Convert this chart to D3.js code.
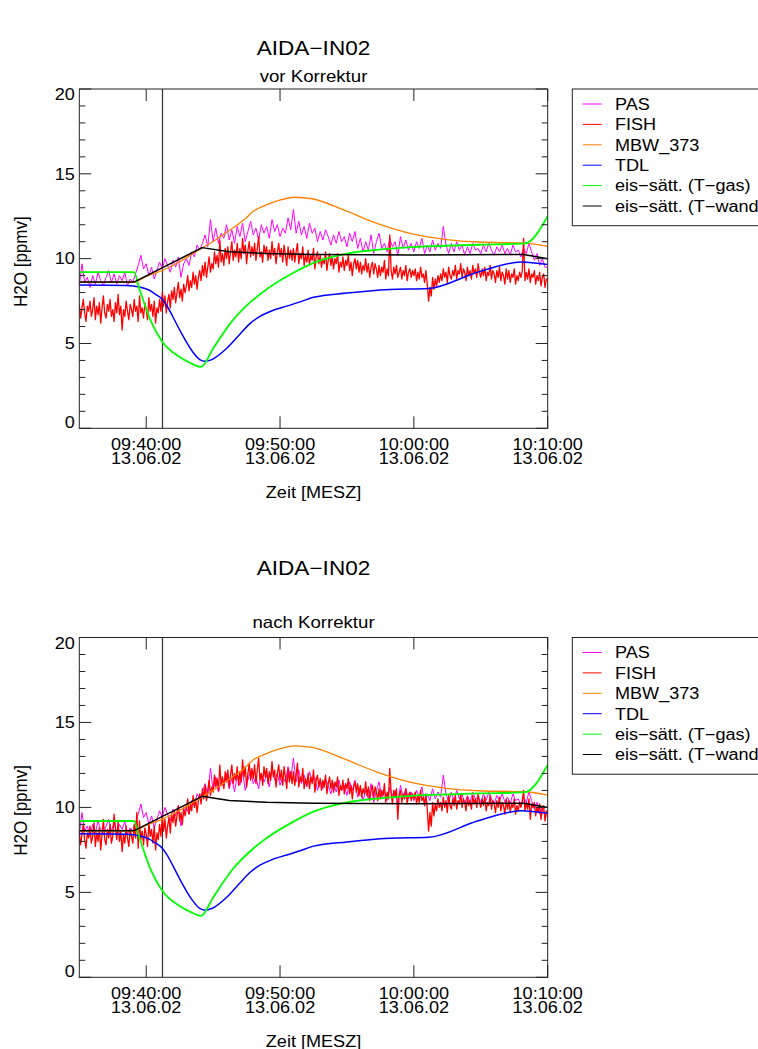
<!DOCTYPE html>
<html>
<head>
<meta charset="utf-8">
<script src="https://cdn.jsdelivr.net/npm/d3@7"></script>
<style>
  html, body { margin: 0; padding: 0; background: #fff; }
  svg { display: block; }
  text { font-family: "Liberation Sans", Arial, Helvetica, sans-serif; fill: #000; }
</style>
</head>
<body>
<svg id="chart" width="758" height="1049"></svg>
<script>
// ---------------- data ----------------
const seriesNames  = ["PAS", "FISH", "MBW_373", "TDL", "eis\u2212s\u00e4tt. (T\u2212gas)", "eis\u2212s\u00e4tt. (T\u2212wand)"];
const seriesColors = ["#ff00ff", "#ff0000", "#ff8000", "#0000ff", "#00ff00", "#000000"];

const mainTitle   = "AIDA\u2212IN02";
const panelTitles = ["vor Korrektur", "nach Korrektur"];
const yLabel      = "H2O  [ppmv]";
const xLabel      = "Zeit [MESZ]";
const dateLabel   = "13.06.02";
const xTickLabels = ["09:40:00", "09:50:00", "10:00:00", "10:10:00"];
const yTickValues = [0, 5, 10, 15, 20];

const startTime = "09:35:00";
const endTime   = "10:10:00";
const markerTime = "09:41:13";

// FISH, one value every 6 s starting 09:35:00 (before correction)
const fishStepSec = 6;
const fishVor = [
  7.3,6.5,7.1,7.6,6.8,6.3,7.2,6.9,7.5,6.6,
  7.0,7.7,6.4,7.2,6.7,7.4,6.2,7.1,7.8,6.8,
  6.5,7.3,6.9,7.6,6.6,7.0,6.3,7.4,6.8,7.9,
  6.7,7.2,5.8,7.0,6.6,7.5,6.9,6.4,7.3,7.0,
  6.6,7.6,6.9,7.2,6.3,7.8,6.8,7.1,6.5,7.4,
  7.0,6.4,7.7,6.9,7.3,6.6,7.5,6.2,7.1,6.8,
  7.6,6.9,8.0,7.2,7.8,6.8,7.5,7.9,7.1,8.1,
  7.6,8.3,7.4,8.0,8.6,7.7,8.2,7.5,8.5,8.0,
  8.4,9.0,8.1,8.7,8.3,9.2,8.5,9.0,8.2,8.9,
  9.3,8.7,9.6,9.0,9.8,8.9,9.5,10.1,9.2,9.7,
  9.4,10.4,9.7,10.2,9.5,11.1,9.8,10.3,9.6,10.6,
  10.0,10.7,9.7,10.4,11.0,9.9,10.5,10.1,10.9,9.8,
  10.6,10.0,11.2,10.3,10.8,9.7,10.5,11.0,10.1,10.7,
  10.2,10.9,9.9,10.6,11.3,10.1,10.4,9.8,10.8,10.3,
  10.7,9.9,10.5,10.0,11.0,10.2,10.6,9.7,10.4,10.9,
  10.1,10.6,9.8,10.8,10.2,9.6,10.7,10.0,10.5,9.9,
  10.6,9.8,10.4,10.9,9.7,10.3,10.0,10.7,9.6,10.2,
  9.8,10.5,9.6,10.2,9.9,10.6,9.4,10.1,10.4,9.7,
  10.2,9.5,10.0,9.7,10.4,9.3,9.9,10.3,9.6,10.1,
  9.4,10.0,9.7,10.3,9.2,9.8,9.5,10.1,9.3,9.9,
  9.6,10.2,9.3,9.8,9.0,9.7,10.0,9.4,9.9,9.2,
  9.8,9.1,9.6,9.3,10.0,9.2,9.7,8.9,9.5,9.8,
  9.1,9.7,9.4,8.9,9.6,9.0,9.5,9.2,9.9,8.8,
  9.4,9.0,11.4,9.3,8.8,9.5,9.1,9.6,8.9,9.2,
  9.5,8.8,9.3,9.0,9.6,8.7,9.2,9.4,8.9,9.3,
  9.0,9.4,8.7,9.2,8.8,9.5,8.9,9.1,8.6,9.3,
  8.5,7.5,8.3,7.8,8.9,8.2,8.8,8.4,9.0,8.6,
  9.1,8.7,9.4,8.9,9.2,8.6,9.5,9.0,8.8,9.3,
  9.0,9.6,8.8,9.3,9.1,9.7,8.9,9.4,9.2,8.7,
  9.5,9.0,9.3,8.8,9.6,9.1,9.4,8.9,9.7,9.2,
  8.9,9.4,9.0,9.5,8.7,9.2,9.0,9.6,8.8,9.3,
  9.1,8.6,9.3,8.9,9.5,8.7,9.2,9.0,8.5,9.4,
  8.8,9.3,8.6,9.1,8.9,9.4,8.5,9.0,8.7,9.2,
  8.9,9.3,11.2,8.7,9.2,8.8,9.4,8.6,9.1,8.9,
  9.3,8.5,9.0,8.7,9.2,8.4,8.9,9.1,8.3,8.8,
  8.7
];

// FISH after correction, same sampling
const fishNach = [
  8.6,7.8,8.4,9.0,8.1,7.6,8.5,8.2,8.9,7.9,
  8.3,9.1,7.7,8.5,8.0,8.8,7.5,8.4,9.3,8.1,
  7.8,8.7,8.2,9.0,7.9,8.3,9.6,8.8,8.1,9.2,
  8.0,8.6,7.4,8.4,7.9,8.9,8.2,7.7,8.7,8.3,
  7.9,9.0,8.2,9.7,7.6,9.2,8.1,8.6,7.8,8.8,
  8.4,7.7,9.1,8.3,8.7,7.9,8.9,7.5,8.5,8.1,
  9.0,8.3,9.5,8.6,9.3,8.2,8.9,9.4,8.5,9.6,
  9.1,9.8,8.9,9.5,10.1,9.2,9.7,9.0,10.0,9.5,
  9.9,10.5,9.6,10.2,9.8,10.7,10.0,10.5,9.7,10.4,
  10.8,10.2,11.1,10.5,11.3,10.4,11.0,11.6,10.7,11.2,
  10.9,11.9,11.2,11.7,11.0,12.5,11.3,11.8,11.1,12.1,
  11.5,12.2,11.2,11.9,12.5,11.4,12.0,11.6,12.4,11.3,
  12.1,11.5,12.8,11.8,12.4,11.2,12.0,12.6,11.6,12.3,
  11.7,12.5,11.4,12.2,12.9,11.6,12.0,11.3,12.4,11.8,
  12.3,11.4,12.1,11.6,12.7,11.8,12.2,11.2,12.0,12.5,
  11.6,12.2,11.3,12.4,11.8,11.1,12.3,11.5,12.1,11.4,
  12.1,11.3,11.9,12.6,11.2,11.8,11.5,12.3,11.1,11.7,
  11.3,12.0,11.1,11.8,11.4,12.2,10.9,11.6,11.9,11.2,
  11.7,11.0,11.6,11.2,11.9,10.8,11.4,11.8,11.1,11.6,
  10.9,11.5,11.2,11.8,10.7,11.3,11.0,11.6,10.8,11.4,
  11.1,11.7,10.8,11.3,10.5,11.2,11.5,10.9,11.4,10.7,
  11.3,10.6,11.1,10.8,11.5,10.7,11.2,10.4,11.0,11.3,
  10.6,11.2,10.9,10.4,11.1,10.5,11.0,10.7,11.4,10.3,
  10.9,10.5,12.3,10.8,10.2,11.0,10.6,11.1,9.3,10.7,
  11.0,10.3,10.8,10.5,11.1,10.2,10.7,10.9,10.4,10.8,
  10.5,10.9,10.2,10.7,10.3,11.0,10.4,10.6,10.1,10.8,
  9.9,8.6,9.7,8.9,10.3,9.5,10.2,9.8,10.5,10.0,
  10.3,9.8,10.6,10.0,10.4,9.7,10.7,10.1,9.9,10.5,
  10.1,10.7,9.9,10.4,10.2,10.8,10.0,10.5,10.3,9.8,
  10.6,10.1,10.4,9.9,10.7,10.2,10.5,10.0,10.8,10.3,
  10.0,10.5,10.1,10.6,9.8,10.3,10.1,10.7,9.9,10.4,
  10.2,9.7,10.4,10.0,10.6,9.8,10.3,10.1,9.6,10.5,
  9.9,10.4,9.7,10.2,10.0,10.5,9.6,10.1,9.8,10.3,
  10.0,10.4,11.0,9.8,10.3,9.9,10.5,9.3,10.2,10.0,
  10.3,9.5,10.0,9.7,10.2,9.3,9.9,10.1,9.2,9.8,
  9.6
];

// PAS, one value every 12 s starting 09:35:00
const pasStepSec = 12;
const pas = [
  8.4,9.7,8.6,8.9,8.3,
  9.0,8.5,9.2,8.7,8.4,
  8.9,9.3,8.6,9.1,8.5,
  9.0,8.7,9.2,8.4,8.8,
  8.6,9.1,9.6,10.2,9.4,
  9.7,9.0,9.5,8.8,9.3,
  9.8,9.4,10.0,9.6,9.2,
  9.9,9.5,10.1,8.9,9.7,
  10.0,9.6,10.4,10.1,10.8,
  10.5,10.9,11.4,10.7,12.3,
  11.0,11.8,10.9,11.5,11.2,
  12.0,11.1,11.7,10.9,11.9,
  11.3,12.1,11.0,11.6,12.2,
  11.4,11.8,11.1,12.0,11.5,
  11.9,11.2,12.3,11.6,12.0,
  11.3,11.8,11.5,12.4,11.7,
  12.9,11.5,12.2,11.4,11.9,
  11.2,12.1,11.5,11.8,11.0,
  11.6,11.1,11.7,11.3,10.8,
  11.4,10.9,11.6,11.0,11.3,
  10.7,11.5,11.0,11.6,10.6,
  11.2,10.4,11.0,10.5,11.4,
  10.3,11.0,11.5,10.6,10.9,
  10.4,11.2,10.7,11.0,10.2,
  11.3,10.6,11.1,10.5,10.9,
  10.4,11.0,10.6,11.2,10.3,
  10.8,10.4,11.1,10.5,10.9,
  10.6,11.9,10.8,10.3,10.9,
  10.4,11.0,10.5,10.8,10.2,
  10.7,10.3,10.9,10.5,10.6,
  10.3,10.8,10.4,10.9,10.5,
  10.2,10.7,10.4,10.8,10.3,
  10.6,10.2,10.8,10.4,10.5,
  10.1,10.6,10.3,10.9,10.4,
  9.9,10.3,9.6,10.0,9.5,
  9.5
];

// MBW_373: minutes after 09:35 and mixing ratio
const mbwMin = [0, 4.08, 5.0, 6.2, 7.45, 8.7, 9.93, 11.2, 12.4, 13.0, 13.9, 14.9, 16.1, 17.4, 19.85, 22.3, 24.8, 27.3, 29.8, 33.3, 35];
const mbwVal = [8.6, 8.6, 8.95, 9.3, 9.8, 10.4, 10.98, 11.66, 12.35, 12.8, 13.14, 13.43, 13.62, 13.53, 12.84, 12.06, 11.47, 11.14, 10.98, 10.92, 10.72];

// TDL
const tdlMin = [0, 3.5, 4.5, 5.2, 5.7, 6.2, 6.6, 7.0, 7.64, 8.39, 9.0, 9.4, 9.9, 11.0, 12.0, 12.75, 13.5, 14.5, 15.5, 16.5, 17.5, 20, 23.2, 26.1, 29.8, 33.0, 35];
const tdlVal = [8.45, 8.42, 8.33, 8.15, 7.9, 7.6, 7.15, 6.56, 5.59, 4.6, 4.05, 3.95, 4.05, 4.7, 5.55, 6.17, 6.6, 6.96, 7.2, 7.45, 7.72, 7.97, 8.18, 8.24, 9.21, 9.8, 9.65];

// ice saturation from gas temperature
const gasMin = [0, 4.08, 4.5, 5.3, 6.2, 7.5, 8.3, 9.1, 10.0, 11.4, 12.6, 13.9, 15.9, 17.5, 20, 22.4, 24.9, 27.4, 29.9, 33.3, 35];
const gasVal = [9.2, 9.2, 8.2, 6.4, 5.1, 4.2, 3.85, 3.62, 4.7, 6.3, 7.3, 8.14, 9.12, 9.75, 10.3, 10.53, 10.68, 10.76, 10.82, 10.9, 12.5];

// ice saturation from wall temperature
const wandMin = [0, 4.08, 9.18, 11.2, 14, 17.5, 25, 33.2, 35];
const wandVal = [8.62, 8.62, 10.65, 10.4, 10.3, 10.24, 10.22, 10.25, 10.0];

// ---------------- helpers ----------------
const day = "2002-06-13T";
const parseT = s => new Date(day + s);
const t0 = parseT(startTime);
const fromMinutes = m => new Date(t0.getTime() + m * 60000);
const fromStep = (i, sec) => new Date(t0.getTime() + i * sec * 1000);

const sampled = (vals, sec) => vals.map((v, i) => ({ t: fromStep(i, sec), v }));
const knots = (mins, vals) => mins.map((m, i) => ({ t: fromMinutes(m), v: vals[i] }));

const SX = 1.13;            // horizontal glyph stretch of the original output
const FONT = 16;

const svg = d3.select("#chart");

function label(g, x, y, str, size, anchor) {
  return g.append("text")
    .attr("transform", `translate(${x},${y}) scale(${SX},1)`)
    .attr("text-anchor", anchor)
    .style("font-size", size + "px")
    .text(str);
}

const plotLeft = 79.3, plotRight = 547.7;
const panels = [
  { top: 89,    bottom: 428.3, titleY: 55,  subY: 82,  fish: fishVor,  sub: panelTitles[0] },
  { top: 637.5, bottom: 977.3, titleY: 575, subY: 628, fish: fishNach, sub: panelTitles[1] }
];

const x = d3.scaleTime().domain([t0, parseT(endTime)]).range([plotLeft, plotRight]);

panels.forEach((p, pi) => {
  const y = d3.scaleLinear().domain([0, 20]).range([p.bottom, p.top]);
  const g = svg.append("g");

  // titles
  label(g, (plotLeft + plotRight) / 2, p.titleY, mainTitle, 20, "middle");
  label(g, (plotLeft + plotRight) / 2, p.subY, p.sub, 16.5, "middle");

  const clipId = "clip" + pi;
  svg.append("clipPath").attr("id", clipId)
    .append("rect").attr("x", plotLeft).attr("y", p.top)
    .attr("width", plotRight - plotLeft).attr("height", p.bottom - p.top);

  const plot = g.append("g").attr("clip-path", `url(#${clipId})`);

  // marker line
  plot.append("line")
    .attr("x1", x(parseT(markerTime))).attr("x2", x(parseT(markerTime)))
    .attr("y1", p.top).attr("y2", p.bottom)
    .attr("stroke", "#333").attr("stroke-width", 1.2);

  const lin = d3.line().x(d => x(d.t)).y(d => y(d.v));
  const smooth = d3.line().x(d => x(d.t)).y(d => y(d.v)).curve(d3.curveMonotoneX);

  const series = [
    { d: sampled(pas, pasStepSec),        gen: lin,    w: 1.0 },
    { d: sampled(p.fish, fishStepSec),    gen: lin,    w: 1.3 },
    { d: knots(mbwMin, mbwVal),           gen: smooth, w: 1.3 },
    { d: knots(tdlMin, tdlVal),           gen: smooth, w: 1.5 },
    { d: knots(gasMin, gasVal),           gen: smooth, w: 1.8 },
    { d: knots(wandMin, wandVal),         gen: lin,    w: 1.5 }
  ];
  series.forEach((s, i) => {
    plot.append("path")
      .attr("d", s.gen(s.d))
      .attr("fill", "none")
      .attr("stroke", seriesColors[i])
      .attr("stroke-width", s.w)
      .attr("stroke-linejoin", "round");
  });

  // frame
  g.append("rect")
    .attr("x", plotLeft).attr("y", p.top)
    .attr("width", plotRight - plotLeft).attr("height", p.bottom - p.top)
    .attr("fill", "none").attr("stroke", "#222").attr("stroke-width", 1);

  // y ticks (left and right, inward)
  const minor = d3.range(0, 21).filter(v => v % 5 !== 0);
  const axisG = g.append("g").attr("stroke", "#222").attr("stroke-width", 1);
  yTickValues.forEach(v => {
    axisG.append("line").attr("x1", plotLeft).attr("x2", plotLeft + 12).attr("y1", y(v)).attr("y2", y(v));
    axisG.append("line").attr("x1", plotRight).attr("x2", plotRight - 12).attr("y1", y(v)).attr("y2", y(v));
  });
  minor.forEach(v => {
    axisG.append("line").attr("x1", plotLeft).attr("x2", plotLeft + 6).attr("y1", y(v)).attr("y2", y(v));
    axisG.append("line").attr("x1", plotRight).attr("x2", plotRight - 6).attr("y1", y(v)).attr("y2", y(v));
  });

  // y tick labels (end labels held inside the axis range)
  yTickValues.forEach(v => {
    let by = y(v) + 5.8;
    if (v === 20) by = p.top + 11.2;
    if (v === 0) by = p.bottom;
    label(g, plotLeft - 4.5, by, String(v), FONT, "end");
  });

  // x ticks (bottom and top, inward)
  xTickLabels.forEach(s => {
    const xx = x(parseT(s));
    axisG.append("line").attr("x1", xx).attr("x2", xx).attr("y1", p.bottom).attr("y2", p.bottom - 12);
    axisG.append("line").attr("x1", xx).attr("x2", xx).attr("y1", p.top).attr("y2", p.top + 12);
    label(g, xx, p.bottom + 22, s, FONT, "middle");
    label(g, xx, p.bottom + 35.5, dateLabel, FONT, "middle");
  });

  // axis titles
  label(g, (plotLeft + plotRight) / 2, p.bottom + 70, xLabel, FONT, "middle");
  g.append("text")
    .attr("transform", `translate(26.7,${(p.top + p.bottom) / 2 + 3}) scale(${SX},1) rotate(-90)`)
    .attr("text-anchor", "middle")
    .style("font-size", "17px")
    .text(yLabel);

  // legend
  const lg = g.append("g");
  lg.append("rect")
    .attr("x", 572.3).attr("y", p.top)
    .attr("width", 220).attr("height", 136.7)
    .attr("fill", "none").attr("stroke", "#222").attr("stroke-width", 1);
  seriesNames.forEach((n, i) => {
    const cy = p.top + 15 + i * 20.4;
    lg.append("line")
      .attr("x1", 582.7).attr("x2", 601.7).attr("y1", cy).attr("y2", cy)
      .attr("stroke", seriesColors[i]).attr("stroke-width", 1);
    label(lg, 615, cy + 5.8, n, FONT, "start");
  });
});
</script>
</body>
</html>
